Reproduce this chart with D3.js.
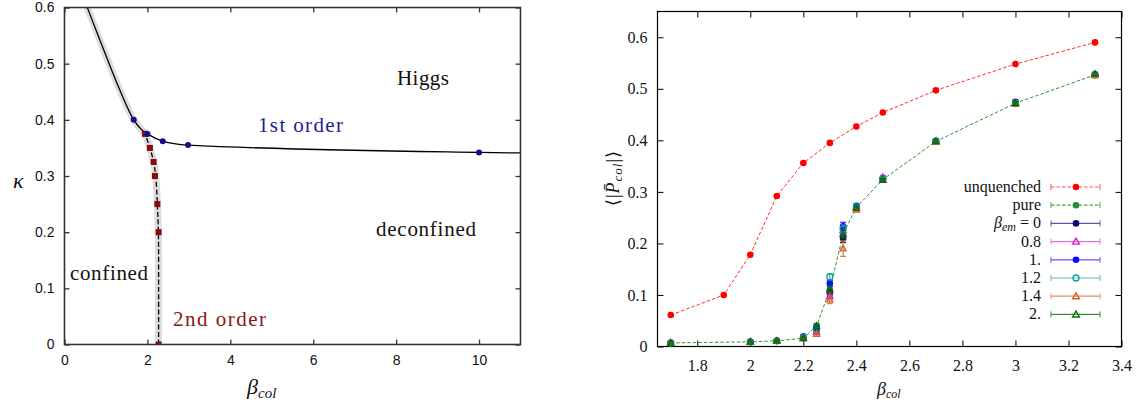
<!DOCTYPE html>
<html>
<head>
<meta charset="utf-8">
<script src="https://cdn.jsdelivr.net/npm/d3@7"></script>
<style>
  body { margin: 0; background: #fff; }
  svg { display: block; }
</style>
</head>
<body>
<svg id="chart" width="1146" height="410"></svg>
<script>
// ---- left panel: phase diagram (beta_col, kappa) ----
const phaseXTicks = [0, 2, 4, 6, 8, 10];
const phaseYTicks = [0, 0.1, 0.2, 0.3, 0.4, 0.5, 0.6];

// measured 1st order points (blue dots)
const firstBeta = [1.67, 2.0, 2.37, 2.98, 10];
const firstKappa = [0.40, 0.375, 0.362, 0.355, 0.342];
// measured 2nd order points (red squares)
const secondBeta = [1.94, 2.06, 2.15, 2.18, 2.24, 2.27, 2.27];
const secondKappa = [0.375, 0.35, 0.325, 0.30, 0.25, 0.20, 0];

// transition lines
const solidBeta = [0.55, 0.79, 1.07, 1.37, 1.67, 1.88, 2.0, 2.37, 2.98, 10, 11];
const solidKappa = [0.6, 0.554, 0.501, 0.447, 0.40, 0.381, 0.375, 0.362, 0.355, 0.342, 0.341];
const bandBeta = [0.55, 0.79, 1.07, 1.37, 1.67, 1.88, 2.0];
const bandKappa = [0.6, 0.554, 0.501, 0.447, 0.40, 0.381, 0.375];
const dashBeta = [1.92, 2.06, 2.15, 2.2, 2.24, 2.265, 2.27, 2.27];
const dashKappa = [0.38, 0.35, 0.325, 0.30, 0.25, 0.20, 0.1, 0];

// ---- right panel: <|P_col|> vs beta_col ----
const plaqXTicks = [1.8, 2, 2.2, 2.4, 2.6, 2.8, 3, 3.2, 3.4];
const plaqYTicks = [0, 0.1, 0.2, 0.3, 0.4, 0.5, 0.6];

const unqBeta = [1.7, 1.9, 2.0, 2.1, 2.2, 2.3, 2.4, 2.5, 2.7, 3.0, 3.3];
const unquenched = [0.061, 0.100, 0.178, 0.292, 0.356, 0.395, 0.427, 0.454, 0.497, 0.548, 0.590];

const simBeta = [1.7, 2.0, 2.1, 2.2, 2.25, 2.3, 2.35, 2.4, 2.5, 2.7, 3.0, 3.3];
const pure = [0.007, 0.009, 0.011, 0.016, 0.040, 0.110, 0.218, 0.270, 0.324, 0.398, 0.472, 0.527];
const em0 = [0.007, 0.009, 0.011, 0.018, 0.030, 0.104, 0.210, 0.271, 0.325, 0.398, 0.472, 0.527];
const em08 = [0.007, 0.009, 0.011, 0.018, 0.028, 0.098, 0.226, 0.270, 0.329, 0.398, 0.472, 0.528];
const em1 = [0.007, 0.009, 0.011, 0.020, 0.036, 0.122, 0.233, 0.273, 0.326, 0.399, 0.475, 0.528];
const em12 = [0.007, 0.009, 0.011, 0.018, 0.032, 0.135, 0.228, 0.271, 0.325, 0.398, 0.472, 0.527];
const em14 = [0.007, 0.009, 0.011, 0.016, 0.024, 0.091, 0.190, 0.265, 0.323, 0.397, 0.471, 0.526];
const em2 = [0.007, 0.009, 0.011, 0.016, 0.040, 0.111, 0.218, 0.269, 0.323, 0.398, 0.472, 0.529];
const emErr = [0.002, 0.002, 0.002, 0.002, 0.004, 0.006, 0.008, 0.003, 0.003, 0.003, 0.003, 0.003];
const em14Err = [0.002, 0.002, 0.002, 0.002, 0.004, 0.008, 0.015, 0.003, 0.003, 0.003, 0.003, 0.003];

const legendLabels = ['unquenched', 'pure', 'β_em = 0', '0.8', '1.', '1.2', '1.4', '2.'];

const svg = d3.select('#chart');
const serif = '"Liberation Serif", "Times New Roman", serif';
const sans = '"Liberation Sans", Arial, sans-serif';

// inward ticks on all four sides, labels on left/bottom only
function drawFrame(g, x, y, xTicks, yTicks, o) {
    const [x0, x1] = x.range();
    const [y0, y1] = y.range();
    const fmt = d => String(d);

    const styleAxis = a => a
        .attr('font-family', o.font)
        .attr('font-size', o.size)
        .call(s => s.select('.domain').remove())
        .call(s => s.selectAll('line').attr('stroke', o.stroke).attr('stroke-width', o.width))
        .call(s => s.selectAll('text').attr('fill', '#111')
            .style('font-family', o.font).style('font-size', o.size + 'px'));

    g.append('g').attr('transform', `translate(0,${y0})`)
        .call(d3.axisBottom(x).tickValues(xTicks).tickFormat(fmt)
            .tickSizeInner(-o.tick).tickSizeOuter(0).tickPadding(o.padB))
        .call(styleAxis);
    g.append('g').attr('transform', `translate(0,${y1})`)
        .call(d3.axisTop(x).tickValues(xTicks).tickFormat('')
            .tickSizeInner(-o.tick).tickSizeOuter(0))
        .call(styleAxis);
    g.append('g').attr('transform', `translate(${x0},0)`)
        .call(d3.axisLeft(y).tickValues(yTicks).tickFormat(fmt)
            .tickSizeInner(-o.tick).tickSizeOuter(0).tickPadding(o.padL))
        .call(styleAxis);
    g.append('g').attr('transform', `translate(${x1},0)`)
        .call(d3.axisRight(y).tickValues(yTicks).tickFormat('')
            .tickSizeInner(-o.tick).tickSizeOuter(0))
        .call(styleAxis);

    g.append('rect')
        .attr('x', x0).attr('y', y1)
        .attr('width', x1 - x0).attr('height', y0 - y1)
        .attr('fill', 'none')
        .attr('stroke', o.stroke)
        .attr('stroke-width', o.frame);
}

// ================= LEFT PANEL =================
const xL = d3.scaleLinear().domain([0, 11]).range([64.5, 520.5]);
const yL = d3.scaleLinear().domain([0, 0.6]).range([344.5, 7.5]);

const left = svg.append('g');
svg.append('clipPath').attr('id', 'clipL')
    .append('rect').attr('x', 64.5).attr('y', 7.5).attr('width', 456).attr('height', 337);

const plotL = left.append('g').attr('clip-path', 'url(#clipL)');
const zipL = (bs, ks) => bs.map((b, i) => [b, ks[i]]);

const lineMono = d3.line().x(d => xL(d[0])).y(d => yL(d[1])).curve(d3.curveMonotoneX);
const lineCR = d3.line().x(d => xL(d[0])).y(d => yL(d[1])).curve(d3.curveCatmullRom.alpha(0.5));

// grey uncertainty bands
plotL.append('path').datum(zipL(bandBeta, bandKappa))
    .attr('d', lineMono).attr('fill', 'none')
    .attr('stroke', '#dcdcdc').attr('stroke-width', 7).attr('stroke-linecap', 'round');
plotL.append('path').datum(zipL(dashBeta, dashKappa))
    .attr('d', lineCR).attr('fill', 'none')
    .attr('stroke', '#dcdcdc').attr('stroke-width', 7);

plotL.append('path').datum(zipL(solidBeta, solidKappa))
    .attr('d', lineMono).attr('fill', 'none')
    .attr('stroke', '#000').attr('stroke-width', 1.3);
plotL.append('path').datum(zipL(dashBeta, dashKappa))
    .attr('d', lineCR).attr('fill', 'none')
    .attr('stroke', '#000').attr('stroke-width', 1.3).attr('stroke-dasharray', '5,2.5');

plotL.selectAll('rect.sq')
    .data(zipL(secondBeta, secondKappa))
    .join('rect')
    .attr('class', 'sq')
    .attr('x', d => xL(d[0]) - 3).attr('y', d => yL(d[1]) - 3)
    .attr('width', 6).attr('height', 6)
    .attr('fill', '#8b0a0a');

plotL.selectAll('circle.dot')
    .data(zipL(firstBeta, firstKappa))
    .join('circle')
    .attr('class', 'dot')
    .attr('cx', d => xL(d[0])).attr('cy', d => yL(d[1]))
    .attr('r', 3)
    .attr('fill', '#10108e');

drawFrame(left, xL, yL, phaseXTicks, phaseYTicks, {
    stroke: '#333', width: 1.3, frame: 1.6, tick: 5,
    font: sans, size: 14, padB: 11, padL: 10
});

// region labels
const regionLabels = [
    { text: 'Higgs', x: 397, y: 85, len: 52, color: '#111' },
    { text: '1st order', x: 258, y: 132, len: 85, color: '#1c1c96' },
    { text: 'deconfined', x: 376, y: 236, len: 100, color: '#111' },
    { text: 'confined', x: 70, y: 280, len: 78, color: '#111' },
    { text: '2nd order', x: 173, y: 326, len: 93, color: '#8b1515' }
];
left.selectAll('text.region')
    .data(regionLabels)
    .join('text')
    .attr('class', 'region')
    .attr('x', d => d.x).attr('y', d => d.y)
    .attr('textLength', d => d.len)
    .attr('lengthAdjust', 'spacing')
    .style('font-family', serif).style('font-size', '21px')
    .attr('fill', d => d.color)
    .text(d => d.text);

left.append('text')
    .attr('x', 13).attr('y', 188)
    .style('font-family', serif).style('font-style', 'italic').style('font-size', '22px')
    .attr('fill', '#111')
    .text('κ');

const bL = left.append('text')
    .attr('x', 247).attr('y', 394)
    .style('font-family', serif).style('font-style', 'italic').style('font-size', '22px')
    .attr('fill', '#111');
bL.append('tspan').text('β');
bL.append('tspan').style('font-size', '15px').attr('dy', 4).text('col');

// ================= RIGHT PANEL =================
const xR = d3.scaleLinear().domain([1.65, 3.4]).range([657.5, 1121.5]);
const yR = d3.scaleLinear().domain([0, 0.65]).range([346.5, 11.5]);

const right = svg.append('g');
drawFrame(right, xR, yR, plaqXTicks, plaqYTicks, {
    stroke: '#000', width: 1, frame: 1.2, tick: 6,
    font: serif, size: 16, padB: 13, padL: 10
});

const plotR = right.append('g');

const series = [
    { name: 'β_em = 0', vals: em0, err: emErr, color: '#0b0b7a', line: '#5a5aa8', marker: 'circle' },
    { name: '0.8', vals: em08, err: emErr, color: '#d81fd8', line: '#e070e0', marker: 'otri' },
    { name: '1.', vals: em1, err: emErr, color: '#0a0aff', line: '#5a5aff', marker: 'circle' },
    { name: '1.2', vals: em12, err: emErr, color: '#119c9c', line: '#66b8b8', marker: 'ocircle' },
    { name: '1.4', vals: em14, err: em14Err, color: '#d0622a', line: '#e0906a', marker: 'otri' },
    { name: '2.', vals: em2, err: emErr, color: '#0d6a0d', line: '#3c8c3c', marker: 'otri' }
];

function drawMarker(g, type, color, cx, cy, s = 3.4) {
    if (type === 'circle') {
        g.append('circle').attr('cx', cx).attr('cy', cy).attr('r', 3.3).attr('fill', color);
    } else if (type === 'ocircle') {
        g.append('circle').attr('cx', cx).attr('cy', cy).attr('r', 3)
            .attr('fill', 'none').attr('stroke', color).attr('stroke-width', 1.3);
    } else {
        g.append('path')
            .attr('d', `M${cx},${cy - s}L${cx + s},${cy + s * 0.75}L${cx - s},${cy + s * 0.75}Z`)
            .attr('fill', 'none').attr('stroke', color).attr('stroke-width', 1.4);
    }
}

function drawErr(g, color, cx, v, e) {
    const top = yR(v + e), bot = yR(v - e);
    g.append('line').attr('x1', cx).attr('x2', cx).attr('y1', top).attr('y2', bot)
        .attr('stroke', color).attr('stroke-width', 1);
    [top, bot].forEach(yy => g.append('line')
        .attr('x1', cx - 3).attr('x2', cx + 3).attr('y1', yy).attr('y2', yy)
        .attr('stroke', color).attr('stroke-width', 1));
}

// dashed guide lines
const lineR = d3.line().x(d => xR(d[0])).y(d => yR(d[1]));
plotR.append('path').datum(unqBeta.map((b, i) => [b, unquenched[i]]))
    .attr('d', lineR).attr('fill', 'none')
    .attr('stroke', '#ff3030').attr('stroke-width', 1).attr('stroke-dasharray', '3.5,2');
plotR.append('path').datum(simBeta.map((b, i) => [b, pure[i]]))
    .attr('d', lineR).attr('fill', 'none')
    .attr('stroke', '#2f962f').attr('stroke-width', 1).attr('stroke-dasharray', '3.5,2');

unqBeta.forEach((b, i) => drawMarker(plotR, 'circle', '#ff0000', xR(b), yR(unquenched[i])));
simBeta.forEach((b, i) => drawMarker(plotR, 'circle', '#2a8c2a', xR(b), yR(pure[i])));

series.forEach(s => {
    simBeta.forEach((b, i) => {
        drawErr(plotR, s.color, xR(b), s.vals[i], s.err[i]);
        drawMarker(plotR, s.marker, s.color, xR(b), yR(s.vals[i]), 3);
    });
});

// legend
const legend = right.append('g');
const legendStyles = [
    { color: '#ff0000', line: '#ff5050', marker: 'circle', dash: '3.5,2' },
    { color: '#2a8c2a', line: '#50a050', marker: 'circle', dash: '3.5,2' },
    ...series.map(s => ({ color: s.color, line: s.line, marker: s.marker, dash: null }))
];
legendLabels.forEach((lab, i) => {
    const yy = 187 + i * 18.2;
    const st = legendStyles[i];
    const t = legend.append('text')
        .attr('x', 1041).attr('y', yy + 5)
        .attr('text-anchor', 'end')
        .style('font-family', serif).style('font-size', '16px').attr('fill', '#111');
    if (lab.startsWith('β_em')) {
        t.append('tspan').style('font-style', 'italic').text('β');
        t.append('tspan').style('font-style', 'italic').style('font-size', '12px').attr('dy', 3).text('em');
        t.append('tspan').attr('dy', -3).text(' = 0');
    } else {
        t.text(lab);
    }
    legend.append('line')
        .attr('x1', 1051).attr('x2', 1100).attr('y1', yy).attr('y2', yy)
        .attr('stroke', st.line).attr('stroke-width', 1.2)
        .attr('stroke-dasharray', st.dash);
    [1051, 1100].forEach(xx => legend.append('line')
        .attr('x1', xx).attr('x2', xx).attr('y1', yy - 3).attr('y2', yy + 3)
        .attr('stroke', st.line).attr('stroke-width', 1));
    drawMarker(legend, st.marker, st.color, 1076, yy, 3.4);
});

// axis labels
const bR = right.append('text')
    .attr('x', 877).attr('y', 395)
    .style('font-family', serif).style('font-style', 'italic').style('font-size', '18px')
    .attr('fill', '#111');
bR.append('tspan').text('β');
bR.append('tspan').style('font-size', '12px').attr('dy', 3).text('col');

const pl = right.append('text')
    .attr('transform', 'translate(619,178) rotate(-90)')
    .attr('text-anchor', 'middle')
    .style('font-family', serif).style('font-size', '18px')
    .style('letter-spacing', '1px')
    .attr('fill', '#111');
pl.append('tspan').text('⟨|');
pl.append('tspan').style('font-style', 'italic').text('P̄');
pl.append('tspan').style('font-style', 'italic').style('font-size', '13px').attr('dy', 3).text('col');
pl.append('tspan').attr('dy', -3).text('|⟩');
</script>
</body>
</html>
